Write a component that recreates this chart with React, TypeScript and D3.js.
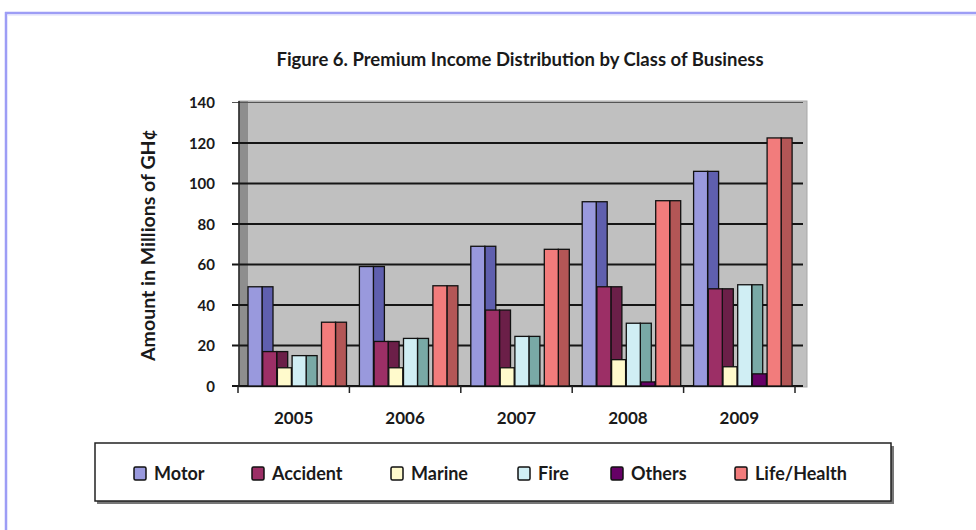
import React from "react";
import * as d3 from "d3";

const years = ["2005", "2006", "2007", "2008", "2009"];
const seriesNames = ["Motor", "Accident", "Marine", "Fire", "Others", "Life/Health"];
const motor = [49, 59, 69, 91, 106];
const accident = [17, 22, 37.5, 49, 48];
const marine = [9, 9, 9, 13, 9.5];
const fire = [15, 23.5, 24.5, 31, 50];
const others = [0, 0, 0.3, 2, 6];
const lifeHealth = [31.5, 49.5, 67.5, 91.5, 122.5];
const yTicks = [0, 20, 40, 60, 80, 100, 120, 140];
const frontColors = ["#9999dd", "#9c2f66", "#fffacc", "#d0eef4", "#660066", "#f27c7c"];
const sideColors = ["#5f5fae", "#6b1f48", "#cfcaa0", "#79a9a6", "#4a004a", "#b35656"];
const legendX = [134, 252, 391, 518, 611, 735];

const seriesValues = [motor, accident, marine, fire, others, lifeHealth];

export default function App() {
  const W = 976;
  const H = 530;
  const y = d3.scaleLinear().domain([0, 140]).range([386, 102.5]);
  const x = d3.scaleBand().domain(years).range([238, 795]).paddingInner(0).paddingOuter(0);
  const xi = d3.scaleBand().domain(seriesNames).range([10, 10 + 6 * 14.7]);
  const frontW = 14;
  const sideW = 11;
  const font = "Lato, 'Open Sans', sans-serif";

  return (
    <svg width={W} height={H} style={{ position: "absolute", left: 0, top: 0 }} fontFamily={font}>
      <rect x={0} y={0} width={W} height={H} fill="#ffffff" />
      {/* outer frame */}
      <line x1={5} y1={13} x2={W} y2={13} stroke="#9d9df5" strokeWidth={2.5} />
      <line x1={6} y1={12} x2={6} y2={H} stroke="#9d9df5" strokeWidth={2.5} />
      <line x1={8} y1={15} x2={W} y2={15} stroke="#dcdcfb" strokeWidth={1} />

      {/* title */}
      <text x={520} y={66} textAnchor="middle" fontSize={18.5} fontWeight={700} fill="#1a1a1a">
        Figure 6. Premium Income Distribution by  Class of Business
      </text>

      {/* plot area */}
      <rect x={239} y={101} width={568} height={286} fill="#c0c0c0" stroke="#a8a8a8" strokeWidth={1} />
      <rect x={239} y={101} width={9} height={286} fill="#8e8e8e" />
      {yTicks.map((t) => (
        <line key={t} x1={232} x2={803} y1={y(t)} y2={y(t)} stroke={t === 140 ? "#555" : "#151515"} strokeWidth={t === 140 ? 1.2 : 2} />
      ))}
      <line x1={239} x2={239} y1={101} y2={387} stroke="#222" strokeWidth={1.5} />
      {/* x ticks */}
      {[...years.map((yr) => x(yr) as number), 795].map((px, i) => (
        <line key={i} x1={px} x2={px} y1={386} y2={393} stroke="#222" strokeWidth={1.5} />
      ))}

      {/* bars */}
      {years.map((yr, yi) =>
        seriesNames.map((s, si) => {
          const v = seriesValues[si][yi];
          const x0 = (x(yr) as number) + (xi(s) as number);
          const top = y(v);
          const h = y(0) - top;
          if (h <= 0.2) return null;
          return (
            <g key={yr + s}>
              <rect x={x0 + frontW} y={top} width={sideW} height={h} fill={sideColors[si]} stroke="#111" strokeWidth={1.3} />
              <rect x={x0} y={top} width={frontW} height={h} fill={frontColors[si]} stroke="#111" strokeWidth={1.3} />
            </g>
          );
        })
      )}

      {/* y tick labels */}
      {yTicks.map((t) => (
        <text key={t} x={215} y={y(t) + 5.5} textAnchor="end" fontSize={15} fontWeight={700} fill="#1a1a1a">
          {t}
        </text>
      ))}
      {/* x labels */}
      {years.map((yr) => (
        <text key={yr} x={(x(yr) as number) + x.bandwidth() / 2} y={424} textAnchor="middle" fontSize={17} fontWeight={700} fill="#1a1a1a">
          {yr}
        </text>
      ))}
      {/* y label */}
      <text transform="translate(155,245) rotate(-90)" textAnchor="middle" fontSize={19.5} fontWeight={700} fill="#1a1a1a">
        Amount in Millions of GH¢
      </text>

      {/* legend */}
      <rect x={97} y={446} width={797} height={58} fill="#777" />
      <rect x={95} y={443} width={796} height={58} fill="#fff" stroke="#222" strokeWidth={1.5} />
      {seriesNames.map((s, i) => (
        <g key={s}>
          <rect x={legendX[i]} y={467} width={12} height={13} fill={frontColors[i]} stroke="#111" strokeWidth={1.5} rx={1.5} />
          <text x={legendX[i] + 20} y={479.5} fontSize={18} fontWeight={700} fill="#1a1a1a">
            {s}
          </text>
        </g>
      ))}
    </svg>
  );
}
